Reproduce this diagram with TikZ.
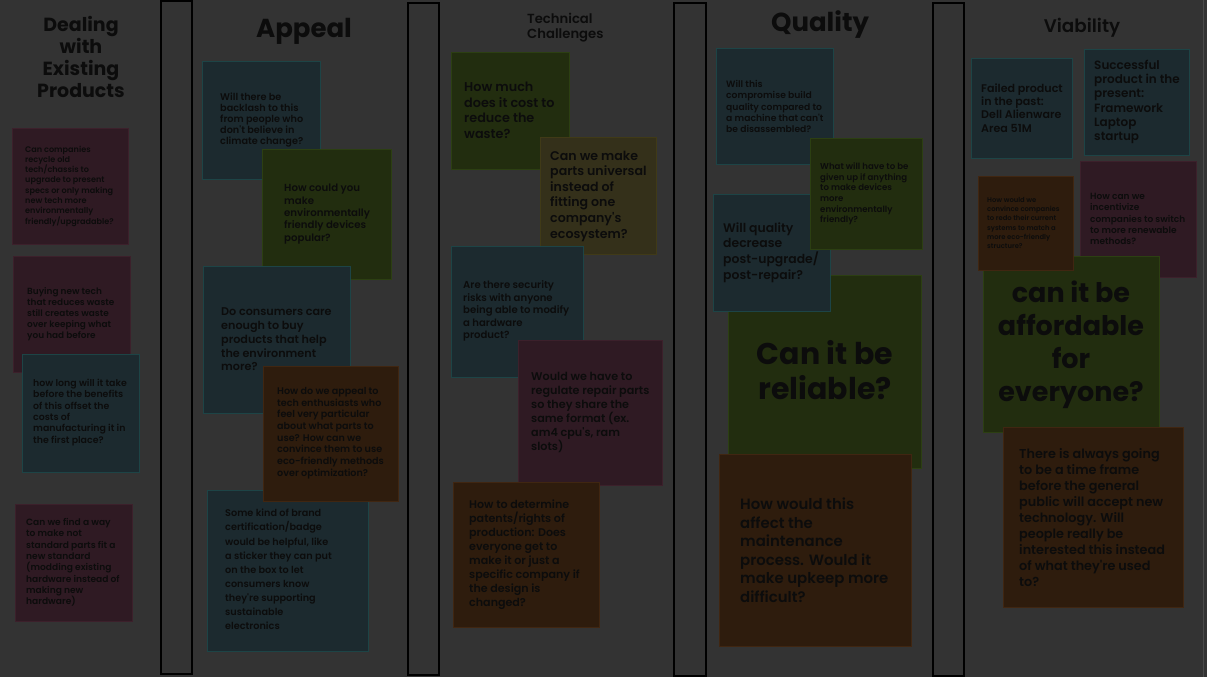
\documentclass[tikz,border=0pt]{standalone}
\usepackage{fontspec}
\setmainfont{Poppins}
\newfontfamily\cardfont{Poppins SemiBold}
\usetikzlibrary{fit}
\newcommand\fsz[2]{\fontsize{#1}{#2}\selectfont}

\definecolor{board}{HTML}{333333}
\definecolor{ink}{HTML}{0C0C0C}
\definecolor{tealcard}{HTML}{1C2A2F}
\definecolor{tealedge}{HTML}{1D4446}
\definecolor{greencard}{HTML}{222D0F}
\definecolor{greenedge}{HTML}{2C3F12}
\definecolor{olivecard}{HTML}{34301A}
\definecolor{oliveedge}{HTML}{403A17}
\definecolor{orangecard}{HTML}{2E1C0D}
\definecolor{orangeedge}{HTML}{402611}
\definecolor{mauvecard}{HTML}{2F1A23}
\definecolor{mauveedge}{HTML}{3C202B}
\definecolor{rim}{HTML}{4A4A4A}

\tikzset{
  card/.style={inner sep=0pt, line width=0.8pt, fill=#1card, draw=#1edge},
  divider/.style={inner sep=0pt, draw=black, line width=2pt, fill=board},
  txt/.style={inner sep=0pt, align=left, text=ink, anchor=west},
  ctxt/.style={inner sep=0pt, align=center, text=ink, anchor=center},
}

\begin{document}
\begin{tikzpicture}[x=1pt,y=-1pt]
\fill[board] (0,0) rectangle (1207,677);
\useasboundingbox (0,0) rectangle (1207,677);
\draw[rim, line width=1pt] (1203.5,0) -- (1203.5,677);

% column dividers
\node[divider, fit={(161,1) (192,674)}] (div1) {};
\node[divider, fit={(408,3) (439,675)}] (div2) {};
\node[divider, fit={(674,3) (706,676)}] (div3) {};
\node[divider, fit={(933,3) (964,676)}] (div4) {};

% ---------- Dealing with Existing Products ----------
\node[ctxt, font=\bfseries\fsz{19}{22}] (h1) at (81,57) {Dealing\\with\\Existing\\Products};

\node[card=mauve, fit={(12,128) (128,244)}] (a1) {};
\node[txt, font=\cardfont\fsz{8.1}{10.3}] (a1t) at (25,186) {Can companies\\recycle old\\tech/chassis to\\upgrade to present\\specs or only making\\new tech more\\environmentally\\friendly/upgradable?};

\node[card=mauve, fit={(13,256) (130,372)}] (a2) {};
\node[txt, font=\cardfont\fsz{8.9}{11}] (a2t) at (27,314) {Buying new tech\\that reduces waste\\still creates waste\\over keeping what\\you had before};

\node[card=teal, fit={(22,354) (139,472)}] (a3) {};
\node[txt, font=\cardfont\fsz{9.4}{11.3}] (a3t) at (33,412.5) {how long will it take\\before the benefits\\of this offset the\\costs of\\manufacturing it in\\the first place?};

\node[card=mauve, fit={(15,504) (132,621)}] (a4) {};
\node[txt, font=\cardfont\fsz{9.1}{11.3}] (a4t) at (26,562.5) {Can we find a way\\to make not\\standard parts fit a\\new standard\\(modding existing\\hardware instead of\\making new\\hardware)};

% ---------- Appeal ----------
\node[ctxt, font=\bfseries\fsz{26}{30}] (h2) at (304,31) {Appeal};

\node[card=teal, fit={(202,61) (320,179)}] (b1) {};
\node[txt, font=\cardfont\fsz{9.7}{11}] (b1t) at (220,120) {Will there be\\backlash to this\\from people who\\don't believe in\\climate change?};

\node[card=green, fit={(262,149) (391,279)}] (b2) {};
\node[txt, font=\cardfont\fsz{10.2}{12.4}] (b2t) at (284,214) {How could you\\make\\environmentally\\friendly devices\\popular?};

\node[card=teal, fit={(203,266) (350,413)}] (b3) {};
\node[txt, font=\cardfont\fsz{11.2}{13.7}] (b3t) at (221,339.5) {Do consumers care\\enough to buy\\products that help\\the environment\\more?};

\node[card=teal, fit={(207,490) (368,651)}] (b5) {};
\node[txt, font=\cardfont\fsz{9.7}{14.1}] (b5t) at (225,569.5) {Some kind of brand\\certification/badge\\would be helpful, like\\a sticker they can put\\on the box to let\\consumers know\\they're supporting\\sustainable\\electronics};

\node[card=orange, fit={(263,366) (398,501)}] (b4) {};
\node[txt, font=\cardfont\fsz{9.6}{11.7}] (b4t) at (277,433) {How do we appeal to\\tech enthusiasts who\\feel very particular\\about what parts to\\use? How can we\\convince them to use\\eco-friendly methods\\over optimization?};

% ---------- Technical Challenges ----------
\node[txt, font=\cardfont\fsz{13.2}{15}] (h3) at (527,27.5) {Technical\\Challenges};

\node[card=green, fit={(451,52) (569,169)}] (c1) {};
\node[txt, font=\cardfont\fsz{12.8}{15.6}] (c1t) at (464,110.5) {How much\\does it cost to\\reduce the\\waste?};

\node[card=olive, fit={(540,137) (656,254)}] (c2) {};
\node[txt, font=\cardfont\fsz{12.6}{15.6}] (c2t) at (550,196) {Can we make\\parts universal\\instead of\\fitting one\\company's\\ecosystem?};

\node[card=teal, fit={(451,246) (583,377)}] (c3) {};
\node[txt, font=\cardfont\fsz{10.1}{12.5}] (c3t) at (463,311) {Are there security\\risks with anyone\\being able to modify\\a hardware\\product?};

\node[card=mauve, fit={(518,340) (662,485)}] (c4) {};
\node[txt, font=\cardfont\fsz{11.2}{14}] (c4t) at (531,412) {Would we have to\\regulate repair parts\\so they share the\\same format (ex.\\am4 cpu's, ram\\slots)};

\node[card=orange, fit={(453,482) (599,627)}] (c5) {};
\node[txt, font=\cardfont\fsz{11.1}{14}] (c5t) at (469,555) {How to determine\\patents/rights of\\production: Does\\everyone get to\\make it or just a\\specific company if\\the design is\\changed?};

% ---------- Quality ----------
\node[ctxt, font=\bfseries\fsz{26}{30}] (h4) at (820,25) {Quality};

\node[card=teal, fit={(716,48) (833,164)}] (d1) {};
\node[txt, font=\cardfont\fsz{9.2}{11.3}] (d1t) at (726,106.5) {Will this\\compromise build\\quality compared to\\a machine that can't\\be disassembled?};

\node[card=green, fit={(728,275) (921,468)}] (d4) {};
\node[ctxt, font=\bfseries\fsz{30}{35}] (d4t) at (825,370.5) {Can it be\\reliable?};

\node[card=teal, fit={(713,194) (830,311)}] (d3) {};
\node[txt, font=\cardfont\fsz{12.4}{15.6}] (d3t) at (723,252.5) {Will quality\\decrease\\post-upgrade/\\post-repair?};

\node[card=green, fit={(810,138) (922,249)}] (d2) {};
\node[txt, font=\cardfont\fsz{8.6}{10.7}] (d2t) at (820,194) {What will have to be\\given up if anything\\to make devices\\more\\environmentally\\friendly?};

\node[card=orange, fit={(719,454) (911,646)}] (d5) {};
\node[txt, font=\cardfont\fsz{14.9}{18.5}] (d5t) at (740,550) {How would this\\affect the\\maintenance\\process. Would it\\make upkeep more\\difficult?};

% ---------- Viability ----------
\node[ctxt, font=\cardfont\fsz{18.3}{22}] (h5) at (1082,28) {Viability};

\node[card=teal, fit={(971,58) (1072,158)}] (e1) {};
\node[txt, font=\cardfont\fsz{11.1}{13.3}] (e1t) at (981,108) {Failed product\\in the past:\\Dell Alienware\\Area 51M};

\node[card=teal, fit={(1084,49) (1189,155)}] (e2) {};
\node[txt, font=\cardfont\fsz{12}{14.2}] (e2t) at (1094,102) {Successful\\product in the\\present:\\Framework\\Laptop\\startup};

\node[card=mauve, fit={(1080,161) (1196,277)}] (e4) {};
\node[txt, font=\cardfont\fsz{9}{11.2}] (e4t) at (1090,219) {How can we\\incentivize\\companies to switch\\to more renewable\\methods?};

\node[card=green, fit={(983,256) (1159,432)}] (e5) {};
\node[ctxt, font=\bfseries\fsz{27}{33}] (e5t) at (1071,344.5) {can it be\\affordable\\for\\everyone?};

\node[card=orange, fit={(978,176) (1073,270)}] (e3) {};
\node[txt, font=\cardfont\fsz{6.8}{9.3}] (e3t) at (987,223) {How would we\\convince companies\\to redo their current\\systems to match a\\more eco-friendly\\structure?};

\node[card=orange, fit={(1003,427) (1183,607)}] (e6) {};
\node[txt, font=\cardfont\fsz{12.8}{16}] (e6t) at (1019,518) {There is always going\\to be a time frame\\before the general\\public will accept new\\technology. Will\\people really be\\interested this instead\\of what they're used\\to?};

\end{tikzpicture}
\end{document}
